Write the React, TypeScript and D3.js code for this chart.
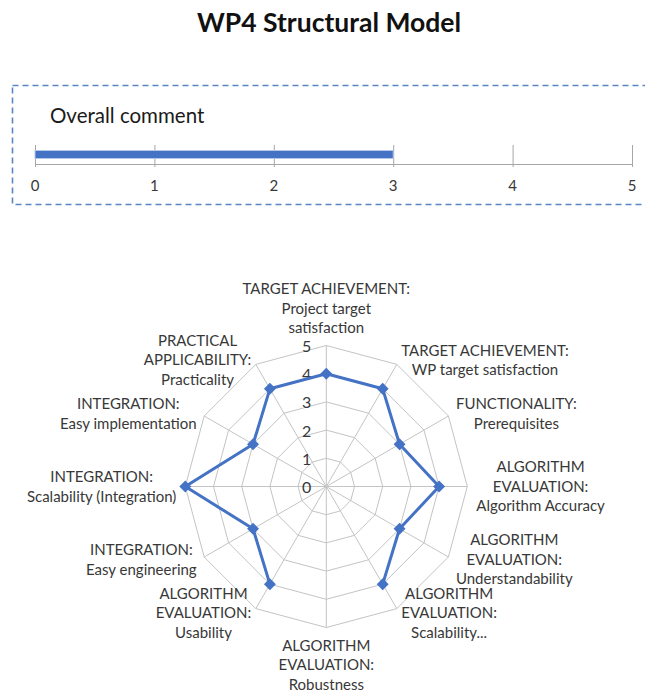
import React, { useEffect, useRef } from 'react';
import * as d3 from 'd3';

const TITLE = 'WP4 Structural Model';
const overallLabel = 'Overall comment';
const overallValue = 3;
const overallTicks = [0, 1, 2, 3, 4, 5];

const axisLabels: string[][] = [
  ['TARGET ACHIEVEMENT:', 'Project target', 'satisfaction'],
  ['TARGET ACHIEVEMENT:', 'WP target satisfaction'],
  ['FUNCTIONALITY:', 'Prerequisites'],
  ['ALGORITHM', 'EVALUATION:', 'Algorithm Accuracy'],
  ['ALGORITHM', 'EVALUATION:', 'Understandability'],
  ['ALGORITHM', 'EVALUATION:', 'Scalability...'],
  ['ALGORITHM', 'EVALUATION:', 'Robustness'],
  ['ALGORITHM', 'EVALUATION:', 'Usability'],
  ['INTEGRATION:', 'Easy engineering'],
  ['INTEGRATION:', 'Scalability (Integration)'],
  ['INTEGRATION:', 'Easy implementation'],
  ['PRACTICAL', 'APPLICABILITY:', 'Practicality'],
];
const scores: (number | null)[] = [4, 4, 3, 4, 3, 4, null, 4, 3, 5, 3, 4];
const radarTicks = [0, 1, 2, 3, 4, 5];

const W = 645;
const H = 693;
const FONT = 'Lato, "Open Sans", sans-serif';
const BLUE = '#4472C4';
const GRID = '#c4c4c4';
const TEXT = '#383838';

export default function App() {
  const ref = useRef<SVGSVGElement>(null);

  useEffect(() => {
    const svg = d3.select(ref.current);
    svg.selectAll('*').remove();

    // Title
    svg.append('text')
      .attr('x', 329).attr('y', 32)
      .attr('text-anchor', 'middle')
      .attr('font-family', FONT).attr('font-weight', 700).attr('font-size', 26.5)
      .attr('fill', '#111')
      .text(TITLE);

    // Overall comment box
    svg.append('rect')
      .attr('x', 12.5).attr('y', 85.5).attr('width', 680).attr('height', 119)
      .attr('fill', 'none').attr('stroke', '#5a86c5').attr('stroke-width', 1.6)
      .attr('stroke-dasharray', '6 4');

    svg.append('text')
      .attr('x', 50).attr('y', 123)
      .attr('font-family', FONT).attr('font-size', 20.5).attr('fill', '#1a1a1a')
      .text(overallLabel);

    const x = d3.scaleLinear().domain([0, 5]).range([35, 632]);
    const axisY = 164.5;
    const g1 = svg.append('g');
    g1.append('line')
      .attr('x1', x(0)).attr('x2', x(5)).attr('y1', axisY).attr('y2', axisY)
      .attr('stroke', '#a6a6a6').attr('stroke-width', 1);
    g1.selectAll('line.tick').data(overallTicks).join('line')
      .attr('class', 'tick')
      .attr('x1', d => x(d) + 0.5).attr('x2', d => x(d) + 0.5)
      .attr('y1', 145).attr('y2', 167)
      .attr('stroke', '#a6a6a6').attr('stroke-width', 1);
    g1.selectAll('text.tl').data(overallTicks).join('text')
      .attr('class', 'tl')
      .attr('x', d => x(d)).attr('y', 191)
      .attr('text-anchor', 'middle')
      .attr('font-family', FONT).attr('font-size', 15).attr('fill', TEXT)
      .text(d => String(d));
    g1.append('rect')
      .attr('x', x(0)).attr('y', 150.5)
      .attr('width', x(overallValue) - x(0)).attr('height', 8)
      .attr('fill', BLUE).attr('stroke', '#b4c7e7').attr('stroke-width', 1);

    // Radar
    const cx = 326.3, cy = 486.5, R = 141;
    const n = axisLabels.length;
    const r = d3.scaleLinear().domain([0, 5]).range([0, R]);
    const ang = (i: number) => (i * 2 * Math.PI) / n;
    const pt = (i: number, v: number): [number, number] => [
      cx + r(v) * Math.sin(ang(i)),
      cy - r(v) * Math.cos(ang(i)),
    ];
    const gr = svg.append('g');

    // rings
    radarTicks.filter(t => t > 0).forEach(t => {
      const pts = d3.range(n).map(i => pt(i, t));
      gr.append('path')
        .attr('d', d3.line().curve(d3.curveLinearClosed)(pts) as string)
        .attr('fill', 'none').attr('stroke', GRID).attr('stroke-width', 1);
    });
    // spokes
    d3.range(n).forEach(i => {
      const [px, py] = pt(i, 5);
      gr.append('line')
        .attr('x1', cx).attr('y1', cy).attr('x2', px).attr('y2', py)
        .attr('stroke', GRID).attr('stroke-width', 1);
    });
    // tick labels
    gr.selectAll('text.rt').data(radarTicks).join('text')
      .attr('class', 'rt')
      .attr('x', cx - 15).attr('y', d => cy - r(d))
      .attr('text-anchor', 'end').attr('dominant-baseline', 'central')
      .attr('font-family', FONT).attr('font-size', 16).attr('fill', TEXT)
      .text(d => String(d));

    // series (open at missing value)
    const start = scores.findIndex(v => v == null);
    const order = d3.range(n).map(k => (start + 1 + k) % n);
    const seq = order.map(i => ({ i, v: scores[i] }));
    const line = d3.line<{ i: number; v: number | null }>()
      .defined(d => d.v != null)
      .x(d => pt(d.i, d.v as number)[0])
      .y(d => pt(d.i, d.v as number)[1]);
    gr.append('path')
      .attr('d', line(seq) as string)
      .attr('fill', 'none').attr('stroke', BLUE).attr('stroke-width', 3)
      .attr('stroke-linejoin', 'round');
    const sym = d3.symbol().type(d3.symbolDiamond2).size(90);
    gr.selectAll('path.mk').data(seq.filter(d => d.v != null)).join('path')
      .attr('class', 'mk')
      .attr('d', sym() as string)
      .attr('transform', d => {
        const [px, py] = pt(d.i, d.v as number);
        return `translate(${px},${py})`;
      })
      .attr('fill', BLUE);

    // category labels
    const LH = 19.5;
    const FS = 15;
    axisLabels.forEach((lines, i) => {
      const a = ang(i);
      const s = Math.sin(a), c = Math.cos(a);
      const [vx, vy] = pt(i, 5);
      const t = gr.append('text')
        .attr('font-family', FONT).attr('font-size', FS).attr('fill', TEXT)
        .attr('text-anchor', 'middle');
      const spans = lines.map(l => t.append('tspan').text(l));
      const widths = spans.map(sp => (sp.node() as SVGTSpanElement).getComputedTextLength());
      const bw = Math.max(...widths);
      const bh = lines.length * LH;
      let bcx: number, bcy: number;
      if (Math.abs(s) < 0.1) {
        bcx = vx;
        bcy = c > 0 ? vy - 8 - bh / 2 : vy + 8 + bh / 2;
      } else {
        const pad = 3 + 6 * s * s;
        bcx = s > 0 ? vx + pad + bw / 2 : vx - pad - bw / 2;
        bcy = vy - 5 * c;
      }
      const top = bcy - bh / 2;
      spans.forEach((sp, k) => {
        sp.attr('x', bcx).attr('y', top + k * LH + LH * 0.5).attr('dy', '0.35em');
      });
    });
  }, []);

  return (
    <svg
      ref={ref}
      width={W}
      height={H}
      style={{ position: 'absolute', left: 0, top: 0, background: '#fff' }}
    />
  );
}
